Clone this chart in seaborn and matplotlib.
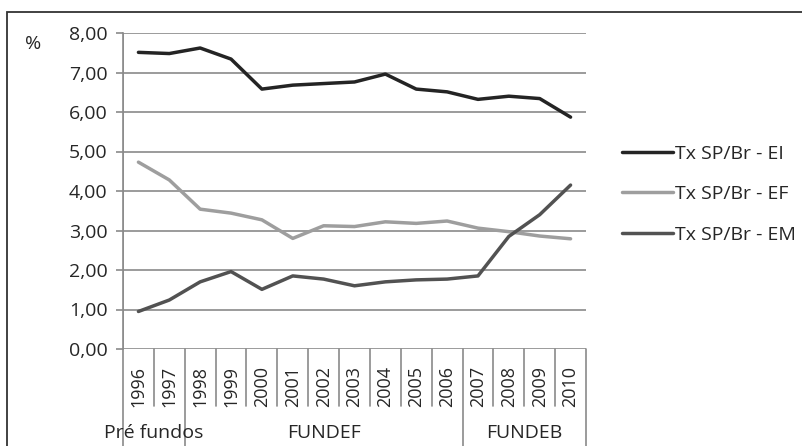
import pandas as pd
import seaborn as sns
import matplotlib.pyplot as plt
from matplotlib.patches import Rectangle
from matplotlib.ticker import FuncFormatter

# data
years = [str(y) for y in range(1996, 2011)]
tx_ei = [7.51, 7.48, 7.62, 7.34, 6.58, 6.68, 6.72, 6.76, 6.96, 6.58, 6.51, 6.32, 6.40, 6.34, 5.87]
tx_ef = [4.73, 4.28, 3.54, 3.44, 3.27, 2.80, 3.12, 3.10, 3.22, 3.18, 3.24, 3.06, 2.97, 2.86, 2.79]
tx_em = [0.95, 1.24, 1.70, 1.96, 1.51, 1.85, 1.77, 1.60, 1.70, 1.75, 1.77, 1.85, 2.85, 3.40, 4.15]
series_names = ['Tx SP/Br - EI', 'Tx SP/Br - EF', 'Tx SP/Br - EM']
periods = ['Pré fundos', 'FUNDEF', 'FUNDEB']
period_spans = [(0, 1), (2, 10), (11, 14)]

df = pd.DataFrame({'Ano': years, series_names[0]: tx_ei,
                   series_names[1]: tx_ef, series_names[2]: tx_em})
long_df = df.melt(id_vars='Ano', var_name='Serie', value_name='Taxa')

sns.set_style('white')
plt.rcParams['font.family'] = ['Open Sans', 'DejaVu Sans']

fig = plt.figure(figsize=(8.02, 4.46), dpi=100)
ax = fig.add_axes([123 / 802, 1 - 349 / 446, 463 / 802, 316 / 446])

palette = {series_names[0]: '#242424', series_names[1]: '#9e9e9e', series_names[2]: '#525252'}
sns.lineplot(data=long_df, x='Ano', y='Taxa', hue='Serie', palette=palette,
             linewidth=2.5, sort=False, ax=ax, legend=True)

ax.set_xlim(-0.5, len(years) - 0.5)
ax.set_ylim(0, 8)
ax.set_yticks(range(0, 9))
ax.yaxis.set_major_formatter(FuncFormatter(lambda v, p: f'{v:.2f}'.replace('.', ',')))
ax.grid(axis='y', color='#8a8a8a', linewidth=1.2)
ax.set_axisbelow(True)
for s in ['top', 'right', 'bottom']:
    ax.spines[s].set_visible(False)
ax.spines['left'].set_color('#8a8a8a')
ax.spines['left'].set_linewidth(1.2)
ax.tick_params(axis='y', length=5, color='#8a8a8a', width=1.2, labelsize=14, pad=6, left=True)
ax.tick_params(axis='x', length=0, labelsize=13, rotation=90, pad=12)
ax.set_xlabel('')
ax.set_ylabel('')

# category dividers under the axis
trans = ax.get_xaxis_transform()
for i in range(len(years) + 1):
    pos = i - 0.5
    bottom = -0.18
    if i in (0, 2, 11, 15):
        bottom = -0.32
    ax.plot([pos, pos], [0, bottom], transform=trans, color='#8a8a8a',
            linewidth=1.2, clip_on=False)
ax.plot([-0.5, -0.5], [0, 1], transform=trans, color='#8a8a8a', linewidth=1.2)

for name, (a, b) in zip(periods, period_spans):
    ax.text((a + b) / 2, -0.265, name, transform=trans, ha='center', va='center',
            fontsize=14)

ax.legend(frameon=False, loc='center left', bbox_to_anchor=(1.04, 0.49),
          fontsize=14, handlelength=2.6, handletextpad=0.1, labelspacing=1.15)

fig.text(25 / 802, 1 - 44 / 446, '%', fontsize=14, va='center', ha='left')

# outer frame of the original screenshot
fig.patches.append(Rectangle((7 / 802, -0.1), 1.2, 1 - 12 / 446 + 0.1,
                             transform=fig.transFigure, fill=False,
                             edgecolor='#333333', linewidth=1.3))

fig.savefig('out.png', dpi=100)
